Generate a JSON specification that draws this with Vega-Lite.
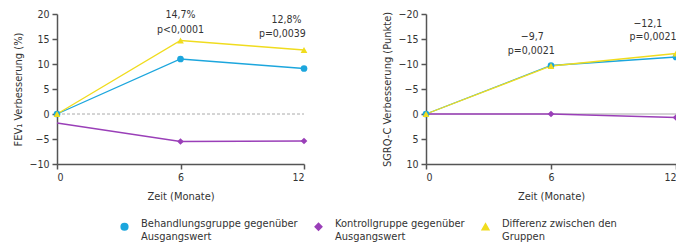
{
  "$schema": "https://vega.github.io/schema/vega-lite/v6.json",
  "padding": {"left": 12, "top": 9, "right": 0, "bottom": 0},
  "config": {
    "font": "DejaVu Sans Condensed",
    "view": {"stroke": null},
    "axis": {
      "grid": false,
      "domainColor": "#555555",
      "tickColor": "#555555",
      "domainWidth": 1.5,
      "tickWidth": 1.5,
      "tickSize": 5,
      "labelColor": "#333333",
      "labelFontSize": 10.5,
      "titleFontSize": 11,
      "titleFontWeight": "normal",
      "titleColor": "#333333",
      "labelPadding": 3,
      "labelOverlap": false
    },
    "legend": {"labelFontSize": 11, "labelColor": "#333333"}
  },
  "datasets": {
    "series": [
      {"panel": "L", "series": "Kontrollgruppe gegenüber Ausgangswert", "x": 0, "y": -1.8, "marker": false},
      {"panel": "L", "series": "Kontrollgruppe gegenüber Ausgangswert", "x": 6, "y": -5.5, "marker": true},
      {"panel": "L", "series": "Kontrollgruppe gegenüber Ausgangswert", "x": 12, "y": -5.4, "marker": true},
      {"panel": "L", "series": "Behandlungsgruppe gegenüber Ausgangswert", "x": 0, "y": 0, "marker": true},
      {"panel": "L", "series": "Behandlungsgruppe gegenüber Ausgangswert", "x": 6, "y": 11, "marker": true},
      {"panel": "L", "series": "Behandlungsgruppe gegenüber Ausgangswert", "x": 12, "y": 9.1, "marker": true},
      {"panel": "L", "series": "Differenz zwischen den Gruppen", "x": 0, "y": 0, "marker": true},
      {"panel": "L", "series": "Differenz zwischen den Gruppen", "x": 6, "y": 14.7, "marker": true},
      {"panel": "L", "series": "Differenz zwischen den Gruppen", "x": 12, "y": 12.8, "marker": true},
      {"panel": "R", "series": "Kontrollgruppe gegenüber Ausgangswert", "x": 0, "y": 0, "marker": true},
      {"panel": "R", "series": "Kontrollgruppe gegenüber Ausgangswert", "x": 6, "y": 0, "marker": true},
      {"panel": "R", "series": "Kontrollgruppe gegenüber Ausgangswert", "x": 12, "y": 0.7, "marker": true},
      {"panel": "R", "series": "Behandlungsgruppe gegenüber Ausgangswert", "x": 0, "y": 0, "marker": true},
      {"panel": "R", "series": "Behandlungsgruppe gegenüber Ausgangswert", "x": 6, "y": -9.7, "marker": true},
      {"panel": "R", "series": "Behandlungsgruppe gegenüber Ausgangswert", "x": 12, "y": -11.4, "marker": true},
      {"panel": "R", "series": "Differenz zwischen den Gruppen", "x": 0, "y": 0, "marker": true},
      {"panel": "R", "series": "Differenz zwischen den Gruppen", "x": 6, "y": -9.6, "marker": true},
      {"panel": "R", "series": "Differenz zwischen den Gruppen", "x": 12, "y": -12.1, "marker": true}
    ],
    "zero": [
      {"panel": "L", "x": 0, "x2": 12, "y": 0},
      {"panel": "R", "x": 0, "x2": 12, "y": 0}
    ],
    "notes": [
      {"panel": "L", "x": 6, "y": 19.9, "label": "14,7%"},
      {"panel": "L", "x": 6, "y": 16.9, "label": "p<0,0001"},
      {"panel": "L", "x": 11.15, "y": 18.8, "label": "12,8%"},
      {"panel": "L", "x": 10.95, "y": 16.0, "label": "p=0,0039"},
      {"panel": "R", "x": 5.1, "y": -15.4, "label": "−9,7"},
      {"panel": "R", "x": 5.05, "y": -12.6, "label": "p=0,0021"},
      {"panel": "R", "x": 10.65, "y": -18.0, "label": "−12,1"},
      {"panel": "R", "x": 10.9, "y": -15.4, "label": "p=0,0021"}
    ]
  },
  "spacing": 73,
  "resolve": {"scale": {"y": "independent"}},
  "hconcat": [
    {
      "width": 247,
      "height": 150,
      "encoding": {
        "x": {"field": "x", "type": "quantitative", "scale": {"domain": [0, 12], "nice": false}, "axis": {"values": [0, 6, 12], "title": "Zeit (Monate)", "titlePadding": 8}},
        "y": {"field": "y", "type": "quantitative", "scale": {"domain": [-10, 20], "nice": false}, "axis": {"values": [-10, -5, 0, 5, 10, 15, 20], "title": "FEV₁ Verbesserung (%)", "titlePadding": 6}}
      },
      "layer": [
        {
          "data": {"name": "zero"},
          "transform": [{"filter": "datum.panel == 'L'"}],
          "mark": {"type": "rule", "color": "#aaaaaa", "strokeDash": [3, 2], "strokeWidth": 1},
          "encoding": {"x2": {"field": "x2"}}
        },
        {
          "data": {"name": "series"},
          "transform": [{"filter": "datum.panel == 'L'"}],
          "mark": {"type": "line", "strokeWidth": 1.3},
          "encoding": {
            "color": {
              "field": "series", "type": "nominal",
              "scale": {"domain": ["Behandlungsgruppe gegenüber Ausgangswert", "Kontrollgruppe gegenüber Ausgangswert", "Differenz zwischen den Gruppen"], "range": ["#1ca6dd", "#9a3fb8", "#f0dc1e"]},
              "legend": {
                "orient": "none", "legendX": 62, "legendY": 207, "direction": "horizontal", "columns": 3,
                "title": null, "symbolSize": 45, "columnPadding": 14,
                "labelBaseline": "alphabetic", "labelOffset": 11,
                "labelExpr": "datum.label == 'Behandlungsgruppe gegenüber Ausgangswert' ? ['Behandlungsgruppe gegenüber', 'Ausgangswert'] : datum.label == 'Kontrollgruppe gegenüber Ausgangswert' ? ['Kontrollgruppe gegenüber', 'Ausgangswert'] : ['Differenz zwischen den', 'Gruppen']"
              }
            }
          }
        },
        {
          "data": {"name": "series"},
          "transform": [{"filter": "datum.panel == 'L' && datum.marker"}],
          "mark": {"type": "point", "filled": true, "opacity": 1, "size": 45},
          "encoding": {
            "color": {"field": "series", "type": "nominal", "legend": null},
            "shape": {
              "field": "series", "type": "nominal",
              "scale": {"domain": ["Behandlungsgruppe gegenüber Ausgangswert", "Kontrollgruppe gegenüber Ausgangswert", "Differenz zwischen den Gruppen"], "range": ["circle", "diamond", "triangle-up"]},
              "legend": null
            }
          }
        },
        {
          "data": {"name": "notes"},
          "transform": [{"filter": "datum.panel == 'L'"}],
          "mark": {"type": "text", "fontSize": 10.5, "color": "#333333"},
          "encoding": {"text": {"field": "label"}}
        }
      ]
    },
    {
      "width": 250,
      "height": 150,
      "encoding": {
        "x": {"field": "x", "type": "quantitative", "scale": {"domain": [0, 12], "nice": false}, "axis": {"values": [0, 6, 12], "title": "Zeit (Monate)", "titlePadding": 8}},
        "y": {"field": "y", "type": "quantitative", "scale": {"domain": [-20, 10], "nice": false, "reverse": true}, "axis": {"values": [-20, -15, -10, -5, 0, 5, 10], "title": "SGRQ-C Verbesserung (Punkte)", "titlePadding": 6}}
      },
      "layer": [
        {
          "data": {"name": "zero"},
          "transform": [{"filter": "datum.panel == 'R'"}],
          "mark": {"type": "rule", "color": "#aaaaaa", "strokeWidth": 1},
          "encoding": {"x2": {"field": "x2"}}
        },
        {
          "data": {"name": "series"},
          "transform": [{"filter": "datum.panel == 'R'"}],
          "mark": {"type": "line", "strokeWidth": 1.3},
          "encoding": {"color": {"field": "series", "type": "nominal"}}
        },
        {
          "data": {"name": "series"},
          "transform": [{"filter": "datum.panel == 'R' && datum.marker"}],
          "mark": {"type": "point", "filled": true, "opacity": 1, "size": 45},
          "encoding": {
            "color": {"field": "series", "type": "nominal", "legend": null},
            "shape": {"field": "series", "type": "nominal", "legend": null}
          }
        },
        {
          "data": {"name": "notes"},
          "transform": [{"filter": "datum.panel == 'R'"}],
          "mark": {"type": "text", "fontSize": 10.5, "color": "#333333"},
          "encoding": {"text": {"field": "label"}}
        }
      ]
    }
  ]
}
